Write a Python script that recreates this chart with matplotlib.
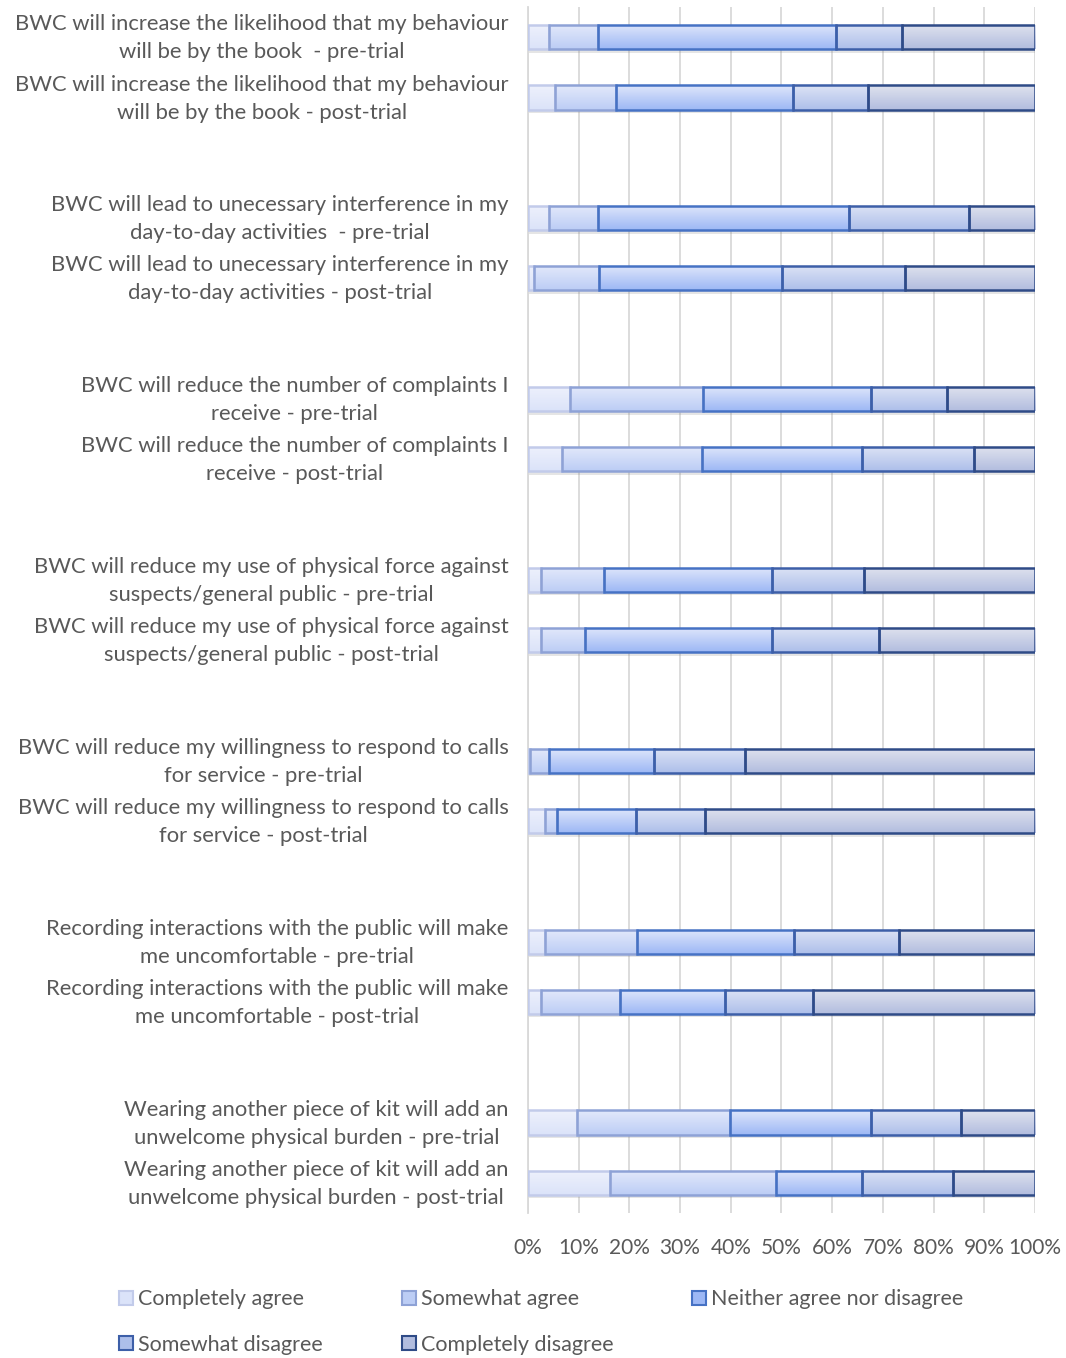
import numpy as np
import matplotlib.pyplot as plt
import matplotlib.patheffects as pe
import matplotlib.transforms as mtransforms
from matplotlib.lines import Line2D

plt.rcParams['font.family'] = ['Lato', 'DejaVu Sans']

# survey statements (pre / post pairs), top to bottom
labels = [
    'BWC will increase the likelihood that my behaviour\nwill be by the book  - pre-trial',
    'BWC will increase the likelihood that my behaviour\nwill be by the book - post-trial',
    'BWC will lead to unecessary interference in my\nday-to-day activities  - pre-trial',
    'BWC will lead to unecessary interference in my\nday-to-day activities - post-trial',
    'BWC will reduce the number of complaints I\nreceive - pre-trial',
    'BWC will reduce the number of complaints I\nreceive - post-trial',
    'BWC will reduce my use of physical force against\nsuspects/general public - pre-trial',
    'BWC will reduce my use of physical force against\nsuspects/general public - post-trial',
    'BWC will reduce my willingness to respond to calls\nfor service - pre-trial',
    'BWC will reduce my willingness to respond to calls\nfor service - post-trial',
    'Recording interactions with the public will make\nme uncomfortable - pre-trial',
    'Recording interactions with the public will make\nme uncomfortable - post-trial',
    'Wearing another piece of kit will add an\nunwelcome physical burden - pre-trial',
    'Wearing another piece of kit will add an\nunwelcome physical burden - post-trial',
]

series = ['Completely agree', 'Somewhat agree', 'Neither agree nor disagree',
          'Somewhat disagree', 'Completely disagree']

completely_agree = [4.1, 5.3, 4.1, 1.2, 8.3, 6.7, 2.6, 2.6, 0.4, 3.3, 3.4, 2.6, 9.6, 16.1]
somewhat_agree = [9.7, 12.1, 9.7, 12.9, 26.2, 27.6, 12.4, 8.6, 3.7, 2.5, 18.1, 15.5, 30.3, 32.8]
neither = [46.9, 34.9, 49.5, 36.1, 33.2, 31.6, 33.1, 36.9, 20.7, 15.6, 31.0, 20.8, 27.7, 16.9]
somewhat_disagree = [13.0, 14.8, 23.6, 24.2, 14.9, 22.1, 18.2, 21.1, 18.0, 13.5, 20.7, 17.3, 17.8, 18.1]
completely_disagree = [26.3, 32.9, 13.1, 25.6, 17.4, 12.0, 33.7, 30.8, 57.2, 65.1, 26.8, 43.8, 14.6, 16.1]

values = np.array([completely_agree, somewhat_agree, neither,
                   somewhat_disagree, completely_disagree])

# gradient top / bottom and edge colours per series
grad_top = ['#eef1fc', '#e3e9fb', '#dfe6fb', '#dde3f5', '#dfe2ee']
grad_bot = ['#dbe3f9', '#bccdf5', '#9db8f5', '#adbfea', '#b2bddf']
edges = ['#c2cbea', '#8ea2d6', '#4672c4', '#3d5fa8', '#2f4b87']

# blank slot after each pair
ypos = []
for i in range(len(labels)):
    ypos.append(i + i // 2)
ypos = np.array(ypos)

fig = plt.figure(figsize=(10.66, 13.58), dpi=100)
ax = fig.add_axes([0.4953, 0.1068, 0.4756, 0.888])

def hex2rgb(h):
    h = h.lstrip('#')
    return np.array([int(h[k:k + 2], 16) / 255 for k in (0, 2, 4)])

left = np.zeros(len(labels))
h = 0.4
for s in range(len(series)):
    bars = ax.barh(ypos, values[s], left=left, height=h, color='white',
                   edgecolor='none', zorder=2)
    for b in bars:
        b.set_path_effects([pe.SimplePatchShadow(offset=(1, -2.5), shadow_rgbFace='#7f7f7f', alpha=0.2),
                            pe.Normal()])
        t = np.linspace(0, 1, 50)[:, None]
        grad = hex2rgb(grad_top[s]) * (1 - t) + hex2rgb(grad_bot[s]) * t
        grad = grad[:, None, :]
        x0, y0 = b.get_x(), b.get_y()
        im = ax.imshow(grad, extent=[x0, x0 + b.get_width(), y0 + b.get_height(), y0],
                       aspect='auto', zorder=2.5, interpolation='bilinear')
        im.set_clip_path(b)
    ax.barh(ypos, values[s], left=left, height=h, color='none',
            edgecolor=edges[s], linewidth=1.8, zorder=3)
    left += values[s]

ax.set_xlim(0, 100)
ax.set_ylim(19.5, -0.5)
ax.set_xticks(np.arange(0, 101, 10))
ax.set_xticklabels([f'{v}%' for v in range(0, 101, 10)])
ax.set_yticks(ypos)
ax.set_yticklabels(labels)
ax.tick_params(axis='both', length=0, labelsize=15, colors='#595959')
ax.tick_params(axis='y', pad=14, labelsize=15.8)
ax.tick_params(axis='x', pad=18)
# nudge the two-line labels up a little
shift = mtransforms.ScaledTranslation(0, 0.05, fig.dpi_scale_trans)
for t in ax.get_yticklabels():
    t.set_multialignment('center')
    t.set_linespacing(1.5)
    t.set_transform(t.get_transform() + shift)
ax.grid(axis='x', color='#d9d9d9', linewidth=1.3, zorder=0)
ax.set_axisbelow(True)
for sp in ['top', 'right', 'bottom']:
    ax.spines[sp].set_visible(False)
ax.spines['left'].set_color('#d9d9d9')
ax.spines['left'].set_linewidth(1.3)

# legend: order so that rows read left-to-right (matplotlib fills columns first)
order = [0, 3, 1, 4, 2]
handles = []
for s in order:
    handles.append(Line2D([], [], marker='s', linestyle='none', markersize=10,
                          markerfacecolor=grad_bot[s], markeredgecolor=edges[s],
                          markeredgewidth=1.5, label=series[s]))
fig.legend(handles=handles, ncol=3, loc='lower left', bbox_to_anchor=(0.092, -0.012),
           frameon=False, fontsize=15.5, labelcolor='#595959', handletextpad=0.15,
           handlelength=0.8, columnspacing=3.6, labelspacing=1.2)

fig.savefig('out.png', dpi=100)
